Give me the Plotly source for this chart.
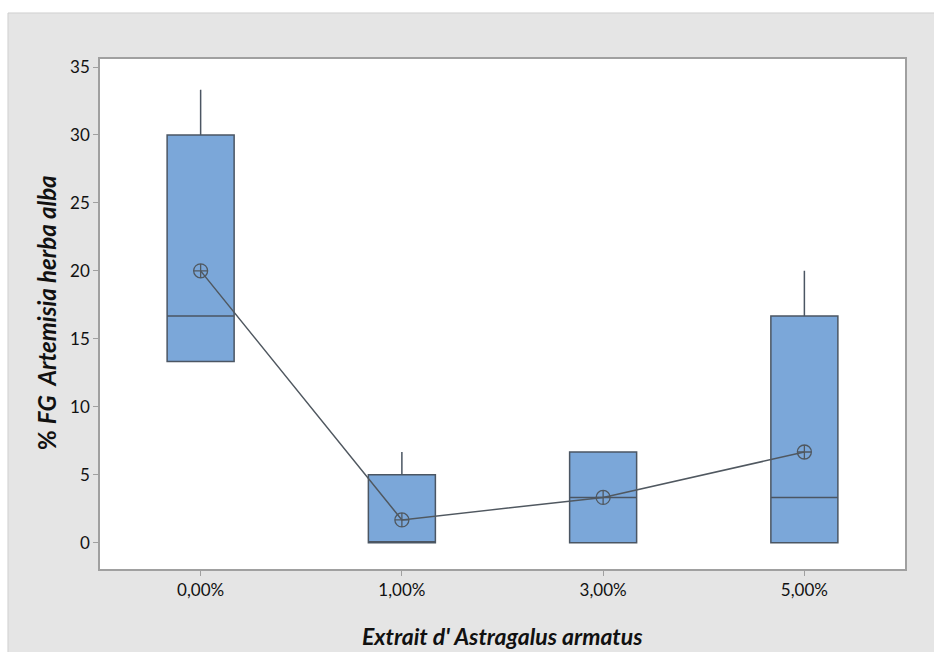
import plotly.graph_objects as go

categories = ["0,00%", "1,00%", "3,00%", "5,00%"]
q1 = [13.33, 0.0, 0.0, 0.0]
median = [16.67, 0.0, 3.33, 3.33]
q3 = [30.0, 5.0, 6.67, 16.67]
lower = [13.33, 0.0, 0.0, 0.0]
upper = [33.33, 6.67, 6.67, 20.0]
means = [20.0, 1.67, 3.33, 6.67]
y_ticks = [0, 5, 10, 15, 20, 25, 30, 35]

xpos = list(range(len(categories)))

BOX_FILL = "#7BA7D9"
EDGE = "#4B5663"
FONT = "Lato"
PANEL = "#E5E5E5"

fig = go.Figure()
fig.add_trace(go.Box(
    x=xpos, q1=q1, median=median, q3=q3,
    lowerfence=lower, upperfence=upper,
    width=0.333, whiskerwidth=0,
    fillcolor=BOX_FILL, line=dict(color=EDGE, width=1.5),
    boxpoints=False, showlegend=False, hoverinfo="skip",
))
fig.add_trace(go.Scatter(
    x=xpos, y=means, mode="lines+markers",
    line=dict(color="#505860", width=1.5),
    marker=dict(symbol="circle-cross-open", size=14, color="#505860",
                line=dict(width=1.3, color="#505860")),
    showlegend=False, hoverinfo="skip",
))

shapes = [
    dict(type="rect", xref="paper", yref="paper", x0=-0.2, x1=1.2, y0=1.0902, y1=1.3,
         fillcolor="white", line=dict(width=0), layer="below"),
    dict(type="rect", xref="paper", yref="paper", x0=-0.2, x1=-0.1143, y0=-0.3, y1=1.3,
         fillcolor="white", line=dict(width=0), layer="below"),
    dict(type="line", xref="paper", yref="paper", x0=-0.1143, x1=1.2, y0=1.0902, y1=1.0902,
         line=dict(color="#CFCFCF", width=1), layer="below"),
    dict(type="line", xref="paper", yref="paper", x0=-0.1143, x1=-0.1143, y0=-0.3, y1=1.0902,
         line=dict(color="#CFCFCF", width=1), layer="below"),
    dict(type="rect", xref="paper", yref="paper", x0=0, x1=1, y0=0, y1=1,
         fillcolor="white", line=dict(width=0), layer="below"),
]

annotations = [
    dict(text="<b><i>Extrait d' Astragalus armatus</i></b>", xref="paper", yref="paper",
         x=0.4994, y=-0.131, xanchor="center", yanchor="middle", showarrow=False,
         font=dict(family=FONT, size=23, color="#111111")),
    dict(text="<b>%</b> <b><i>FG&nbsp; Artemisia herba alba</i></b>", xref="paper", yref="paper",
         x=-0.0658, y=0.502, xanchor="center", yanchor="middle", showarrow=False,
         textangle=-90, font=dict(family=FONT, size=24, color="#111111")),
]

fig.update_layout(
    width=934, height=652,
    margin=dict(l=100, r=29, t=59, b=83),
    paper_bgcolor=PANEL, plot_bgcolor="white",
    shapes=shapes, annotations=annotations,
    font=dict(family=FONT, size=17, color="#111111"),
)
fig.update_xaxes(
    range=[-0.5, 3.5], tickmode="array", tickvals=xpos, ticktext=categories,
    showgrid=False, zeroline=False, showline=True, mirror=True,
    linecolor="#A0A0A0", linewidth=1.5, ticks="outside", ticklen=5,
    tickcolor="#A0A0A0", tickwidth=1,
)
fig.update_yaxes(
    range=[-1.94, 35.59], tickmode="array", tickvals=y_ticks,
    showgrid=False, zeroline=False, showline=True, mirror=True,
    linecolor="#A0A0A0", linewidth=1.5, ticks="outside", ticklen=5,
    tickcolor="#A0A0A0", tickwidth=1,
)

fig.write_html(
    "out.html",
    config={"displayModeBar": False},
    post_script=("document.body.style.margin='0';"
                 "document.documentElement.style.overflow='hidden';"
                 "document.body.style.overflow='hidden';"),
)
